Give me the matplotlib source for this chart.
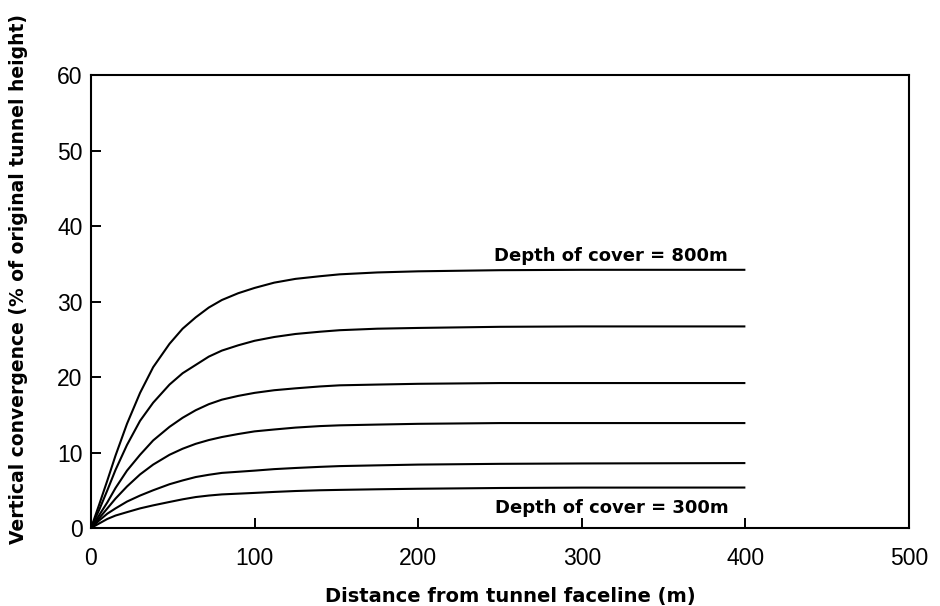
import numpy as np
import matplotlib
matplotlib.use("Agg")
import matplotlib.pyplot as plt

# distance from the tunnel face (m)
distance = [0, 5, 10, 15, 22, 30, 38, 48, 56, 64, 72, 80, 90, 100,
            112, 125, 140, 152, 175, 200, 250, 300, 400]

# vertical convergence (% of original tunnel height), one list per depth of cover
conv_800 = [0, 3.1, 6.3, 9.6, 13.8, 17.9, 21.3, 24.4, 26.4, 27.9, 29.2, 30.2, 31.1, 31.8,
            32.5, 33.0, 33.35, 33.6, 33.85, 34.0, 34.15, 34.2, 34.2]
conv_700 = [0, 2.4, 5.0, 7.7, 11.0, 14.2, 16.6, 19.0, 20.5, 21.6, 22.7, 23.5, 24.2, 24.8,
            25.3, 25.7, 26.0, 26.2, 26.4, 26.5, 26.65, 26.7, 26.7]
conv_600 = [0, 1.7, 3.4, 5.3, 7.6, 9.7, 11.6, 13.4, 14.6, 15.6, 16.4, 17.0, 17.5, 17.9,
            18.25, 18.5, 18.75, 18.9, 19.0, 19.1, 19.2, 19.2, 19.2]
conv_500 = [0, 1.3, 2.6, 3.9, 5.5, 7.1, 8.4, 9.7, 10.5, 11.15, 11.65, 12.05, 12.45, 12.8,
            13.05, 13.3, 13.5, 13.6, 13.7, 13.8, 13.9, 13.9, 13.9]
conv_400 = [0, 1.0, 1.9, 2.6, 3.5, 4.3, 5.0, 5.8, 6.3, 6.75, 7.05, 7.3, 7.45, 7.6,
            7.8, 7.95, 8.1, 8.2, 8.3, 8.4, 8.5, 8.55, 8.6]
conv_300 = [0, 0.6, 1.2, 1.65, 2.1, 2.6, 3.0, 3.45, 3.8, 4.1, 4.3, 4.45, 4.55, 4.65,
            4.78, 4.9, 5.0, 5.05, 5.13, 5.2, 5.3, 5.35, 5.36]

curves = [conv_800, conv_700, conv_600, conv_500, conv_400, conv_300]

fig = plt.figure(figsize=(9.4, 6.06), dpi=100)
ax = fig.add_axes([0.0968, 0.1287, 0.8702, 0.7475])

for c in curves:
    ax.plot(distance, c, color="black", lw=1.5, solid_capstyle="butt",
            solid_joinstyle="round")

ax.set_xlim(0, 500)
ax.set_ylim(0, 60)
ax.set_xticks([0, 100, 200, 300, 400, 500])
ax.set_yticks([0, 10, 20, 30, 40, 50, 60])
ax.tick_params(direction="in", length=7, width=1.4, top=False, right=False)
ax.tick_params(axis="x", pad=14)
ax.tick_params(axis="y", pad=6)
for lab in ax.get_xticklabels() + ax.get_yticklabels():
    lab.set_fontfamily("Liberation Sans")
    lab.set_fontsize(16.5)
for s in ax.spines.values():
    s.set_linewidth(1.5)

ax.set_xlabel("Distance from tunnel faceline (m)", fontsize=14,
              fontweight="bold")
ax.set_ylabel("Vertical convergence (% of original tunnel height)", fontsize=13.5,
              fontweight="bold")
ax.xaxis.set_label_coords(0.513, -0.130)
ax.yaxis.set_label_coords(-0.077, 0.55)

ax.text(389, 36.0, "Depth of cover = 800m", ha="right", va="center",
        fontsize=13, fontweight="bold")
ax.text(390, 2.7, "Depth of cover = 300m", ha="right", va="center",
        fontsize=13, fontweight="bold")

fig.savefig("out.png", dpi=100)
